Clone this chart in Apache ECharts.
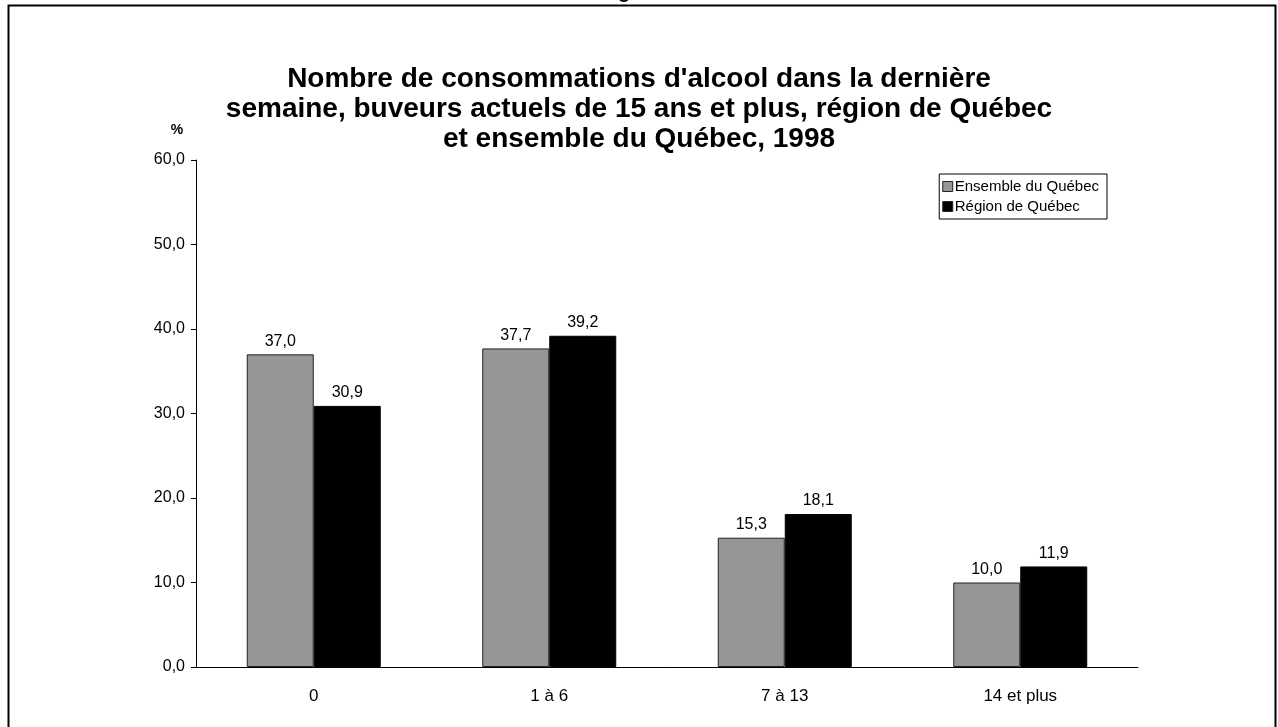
<!DOCTYPE html>
<html>
<head>
<meta charset="utf-8">
<script src="https://cdn.jsdelivr.net/npm/echarts@6/dist/echarts.min.js"></script>
<style>
  html, body { margin: 0; padding: 0; background: #fff; }
  #chart { width: 1278px; height: 727px; }
</style>
</head>
<body>
<div id="chart"></div>
<script>
// catégories (nombre de consommations)
const categories = ['0', '1 à 6', '7 à 13', '14 et plus'];
const ensembleQuebec = [37.0, 37.7, 15.3, 10.0];
const regionQuebec = [30.9, 39.2, 18.1, 11.9];
const yTicks = [0, 10, 20, 30, 40, 50, 60];

const fmt = v => Number(v).toFixed(1).replace('.', ',');
const FONT = 'Liberation Sans, Arial, sans-serif';

const chart = echarts.init(document.getElementById('chart'));
const option = {
  animation: false,
  textStyle: { fontFamily: FONT, color: '#000' },
  graphic: [
    // cadre
    { type: 'rect', shape: { x: 8.5, y: 5.5, width: 1267, height: 740 },
      style: { fill: 'none', stroke: '#000', lineWidth: 2 } },
    // titre du haut, coupé
    { type: 'text', style: { x: 639, y: -8, text: 'Figure 3', font: 'bold 20px ' + FONT,
      fill: '#000', align: 'center', verticalAlign: 'middle' } },
    { type: 'text',
      style: { x: 639, y: 64,
        text: "Nombre de consommations d'alcool dans la dernière\nsemaine, buveurs actuels de 15 ans et plus, région de Québec\net ensemble du Québec, 1998",
        font: 'bold 28px ' + FONT, fill: '#000', align: 'center', verticalAlign: 'top', lineHeight: 30 } },
    { type: 'text', style: { x: 177, y: 130, text: '%', font: 'bold 14px ' + FONT,
      fill: '#000', align: 'center', verticalAlign: 'middle' } }
  ],
  legend: {
    right: 171, top: 174, orient: 'vertical',
    itemWidth: 10, itemHeight: 10, itemGap: 5,
    padding: [5, 8, 5, 3],
    borderColor: '#000', borderWidth: 1, borderRadius: 0,
    icon: 'rect',
    itemStyle: { borderColor: '#222', borderWidth: 1 },
    textStyle: { fontSize: 15, color: '#000', padding: [0, 0, 0, -3] },
    data: ['Ensemble du Québec', 'Région de Québec']
  },
  grid: { left: 196, right: 140, top: 160, bottom: 60 },
  xAxis: {
    type: 'category',
    data: categories,
    axisLine: { lineStyle: { color: '#000', width: 1 } },
    axisTick: { show: false },
    axisLabel: { fontSize: 17, color: '#000', margin: 21 }
  },
  yAxis: {
    type: 'value',
    min: yTicks[0], max: yTicks[yTicks.length - 1], interval: 10,
    axisLine: { show: true, lineStyle: { color: '#000', width: 1 } },
    axisTick: { show: true, length: 5, lineStyle: { color: '#000' } },
    splitLine: { show: false },
    axisLabel: { fontSize: 16, color: '#000', margin: 11, formatter: fmt }
  },
  series: [
    {
      name: 'Ensemble du Québec', type: 'bar', data: ensembleQuebec,
      barWidth: 67, barGap: '0%',
      itemStyle: { color: '#969696', borderColor: '#222', borderWidth: 1 },
      label: { show: true, position: 'top', distance: 5, fontSize: 16, color: '#000', formatter: p => fmt(p.value) }
    },
    {
      name: 'Région de Québec', type: 'bar', data: regionQuebec,
      barWidth: 67,
      itemStyle: { color: '#000', borderColor: '#000', borderWidth: 1 },
      label: { show: true, position: 'top', distance: 5, fontSize: 16, color: '#000', formatter: p => fmt(p.value) }
    }
  ]
};
chart.setOption(option);
</script>
</body>
</html>
